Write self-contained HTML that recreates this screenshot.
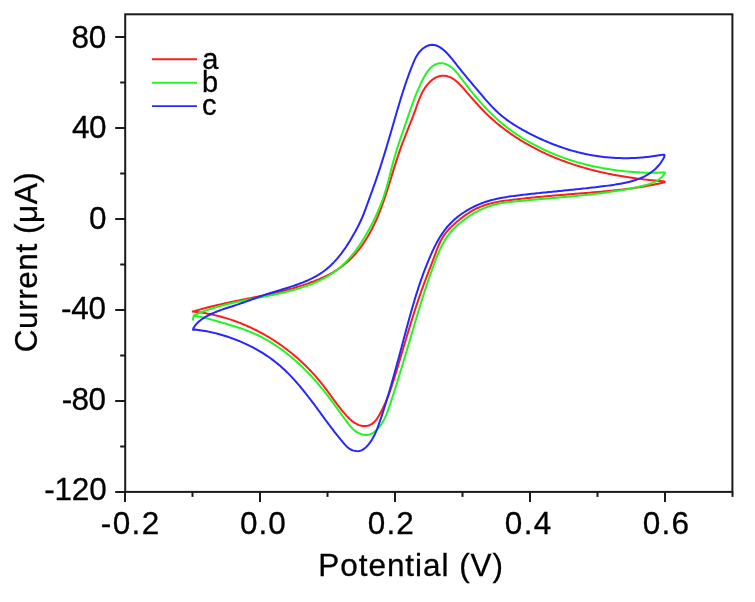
<!DOCTYPE html>
<html><head><meta charset="utf-8"><style>
html,body{margin:0;padding:0;background:#fff;width:755px;height:602px;overflow:hidden}
svg{display:block;will-change:transform}
text{font-family:"Liberation Sans",sans-serif;font-size:31.5px;fill:#000;stroke:#000;stroke-width:0.3px}
.lg text{font-size:29px}
</style></head><body>
<svg width="755" height="602" viewBox="0 0 755 602">
<g fill="none" stroke-width="2.0" stroke-linejoin="round" stroke-linecap="round">
<path d="M192.80,311.60 L194.32,311.21 L195.84,310.75 L197.37,310.29 L198.90,309.85 L200.44,309.41 L201.97,308.98 L203.51,308.56 L205.04,308.14 L206.58,307.74 L208.12,307.34 L209.66,306.95 L211.20,306.56 L212.74,306.18 L214.29,305.80 L215.83,305.44 L217.38,305.07 L218.92,304.71 L220.47,304.36 L222.02,304.01 L223.56,303.67 L225.11,303.32 L226.66,302.99 L228.21,302.65 L229.76,302.32 L231.31,301.99 L232.87,301.67 L234.42,301.35 L235.97,301.03 L237.52,300.71 L239.08,300.39 L240.63,300.07 L242.18,299.76 L243.73,299.45 L245.29,299.13 L246.84,298.82 L248.39,298.50 L249.95,298.19 L251.50,297.88 L253.05,297.56 L254.61,297.24 L256.16,296.93 L257.71,296.61 L259.26,296.29 L260.81,295.96 L262.36,295.64 L263.91,295.31 L265.46,294.97 L267.01,294.64 L268.56,294.30 L270.10,293.96 L271.65,293.61 L273.20,293.26 L274.74,292.90 L276.29,292.54 L277.83,292.18 L279.37,291.81 L280.91,291.43 L282.45,291.05 L283.99,290.66 L285.53,290.26 L287.06,289.86 L288.60,289.45 L290.13,289.03 L291.66,288.61 L293.19,288.17 L294.72,287.73 L296.25,287.28 L297.78,286.83 L299.30,286.36 L300.82,285.88 L302.35,285.40 L303.86,284.90 L305.38,284.40 L306.90,283.88 L308.41,283.35 L309.91,282.81 L311.41,282.26 L312.91,281.70 L314.40,281.12 L315.89,280.53 L317.37,279.93 L318.84,279.31 L320.30,278.68 L321.75,278.03 L323.20,277.37 L324.63,276.69 L326.06,276.00 L327.48,275.28 L328.88,274.56 L330.27,273.81 L331.65,273.04 L333.02,272.26 L334.37,271.45 L335.71,270.63 L337.03,269.79 L338.34,268.92 L339.63,268.04 L340.91,267.13 L342.17,266.20 L343.41,265.25 L344.63,264.28 L345.84,263.29 L347.02,262.27 L348.19,261.22 L349.34,260.16 L350.47,259.07 L351.58,257.96 L352.67,256.83 L353.74,255.69 L354.80,254.52 L355.84,253.33 L356.86,252.13 L357.86,250.90 L358.85,249.66 L359.82,248.41 L360.77,247.14 L361.71,245.85 L362.63,244.55 L363.53,243.23 L364.42,241.90 L365.29,240.56 L366.15,239.21 L366.99,237.84 L367.81,236.46 L368.62,235.08 L369.41,233.68 L370.19,232.27 L370.96,230.86 L371.71,229.44 L372.44,228.00 L373.16,226.57 L373.87,225.12 L374.56,223.68 L375.24,222.22 L375.91,220.76 L376.56,219.30 L377.20,217.83 L377.83,216.36 L378.45,214.89 L379.05,213.42 L379.64,211.94 L380.23,210.46 L380.80,208.97 L381.36,207.49 L381.91,206.00 L382.46,204.51 L382.99,203.01 L383.52,201.52 L384.04,200.02 L384.55,198.52 L385.05,197.02 L385.55,195.52 L386.05,194.02 L386.54,192.51 L387.02,191.00 L387.50,189.50 L387.97,187.99 L388.44,186.48 L388.91,184.97 L389.38,183.46 L389.84,181.95 L390.30,180.44 L390.76,178.93 L391.22,177.42 L391.68,175.91 L392.14,174.40 L392.60,172.89 L393.06,171.38 L393.52,169.87 L393.99,168.36 L394.45,166.85 L394.92,165.34 L395.40,163.84 L395.87,162.33 L396.35,160.83 L396.84,159.33 L397.33,157.83 L397.82,156.33 L398.32,154.84 L398.83,153.34 L399.34,151.85 L399.87,150.36 L400.40,148.88 L400.93,147.39 L401.48,145.91 L402.03,144.43 L402.58,142.95 L403.14,141.47 L403.71,139.99 L404.28,138.52 L404.85,137.04 L405.43,135.56 L406.01,134.09 L406.59,132.61 L407.17,131.14 L407.76,129.66 L408.34,128.18 L408.92,126.71 L409.51,125.23 L410.09,123.74 L410.67,122.26 L411.25,120.78 L411.83,119.29 L412.40,117.80 L412.97,116.31 L413.53,114.81 L414.09,113.31 L414.65,111.81 L415.20,110.31 L415.74,108.80 L416.27,107.28 L416.81,105.77 L417.35,104.26 L417.90,102.75 L418.46,101.25 L419.03,99.76 L419.63,98.28 L420.24,96.81 L420.88,95.36 L421.55,93.93 L422.26,92.51 L423.00,91.12 L423.79,89.75 L424.62,88.41 L425.50,87.10 L426.44,85.82 L427.43,84.57 L428.49,83.36 L429.60,82.19 L430.78,81.07 L432.02,80.02 L433.30,79.06 L434.64,78.20 L436.02,77.44 L437.45,76.82 L438.91,76.33 L440.40,75.99 L441.91,75.80 L443.41,75.74 L444.91,75.82 L446.38,76.04 L447.82,76.38 L449.21,76.85 L450.58,77.44 L451.91,78.12 L453.21,78.91 L454.47,79.78 L455.72,80.74 L456.93,81.76 L458.13,82.84 L459.30,83.98 L460.45,85.16 L461.59,86.37 L462.71,87.61 L463.82,88.86 L464.92,90.13 L466.01,91.39 L467.09,92.64 L468.17,93.89 L469.24,95.12 L470.30,96.35 L471.37,97.57 L472.43,98.78 L473.49,99.98 L474.55,101.17 L475.60,102.36 L476.66,103.53 L477.72,104.70 L478.79,105.86 L479.86,107.00 L480.93,108.14 L482.01,109.27 L483.09,110.40 L484.18,111.51 L485.28,112.61 L486.39,113.71 L487.51,114.79 L488.64,115.87 L489.78,116.94 L490.93,117.99 L492.09,119.04 L493.26,120.09 L494.44,121.12 L495.64,122.14 L496.84,123.15 L498.05,124.16 L499.27,125.15 L500.50,126.14 L501.74,127.11 L502.99,128.08 L504.25,129.04 L505.51,129.99 L506.79,130.93 L508.07,131.86 L509.36,132.78 L510.66,133.69 L511.96,134.59 L513.28,135.49 L514.60,136.37 L515.93,137.24 L517.26,138.11 L518.60,138.96 L519.95,139.81 L521.31,140.64 L522.67,141.47 L524.04,142.29 L525.41,143.09 L526.79,143.89 L528.18,144.68 L529.57,145.46 L530.96,146.23 L532.36,146.99 L533.77,147.74 L535.18,148.48 L536.59,149.20 L538.01,149.92 L539.43,150.64 L540.86,151.34 L542.29,152.03 L543.73,152.71 L545.17,153.38 L546.61,154.04 L548.05,154.69 L549.50,155.33 L550.96,155.97 L552.41,156.59 L553.87,157.21 L555.34,157.81 L556.80,158.41 L558.27,158.99 L559.75,159.57 L561.22,160.14 L562.70,160.70 L564.19,161.25 L565.67,161.80 L567.16,162.33 L568.65,162.86 L570.15,163.37 L571.65,163.88 L573.15,164.38 L574.65,164.87 L576.16,165.36 L577.67,165.83 L579.18,166.30 L580.69,166.76 L582.21,167.21 L583.73,167.65 L585.25,168.09 L586.77,168.52 L588.30,168.94 L589.83,169.35 L591.36,169.75 L592.89,170.15 L594.43,170.54 L595.97,170.92 L597.51,171.29 L599.05,171.66 L600.59,172.02 L602.13,172.38 L603.68,172.72 L605.23,173.06 L606.78,173.39 L608.33,173.72 L609.89,174.04 L611.44,174.35 L613.00,174.65 L614.56,174.95 L616.12,175.24 L617.68,175.53 L619.24,175.81 L620.81,176.08 L622.37,176.35 L623.94,176.61 L625.51,176.86 L627.08,177.11 L628.65,177.35 L630.22,177.59 L631.79,177.82 L633.36,178.04 L634.94,178.26 L636.51,178.47 L638.09,178.68 L639.66,178.88 L641.24,179.08 L642.82,179.27 L644.40,179.45 L645.97,179.63 L647.55,179.81 L649.13,179.98 L650.71,180.14 L652.29,180.30 L653.87,180.46 L655.45,180.61 L657.04,180.75 L658.62,180.89 L660.20,181.03 L661.78,181.16 L663.36,181.29 L664.90,181.70 L664.90,181.90 L663.39,182.60 L661.78,182.97 L660.17,183.33 L658.55,183.67 L656.94,184.01 L655.32,184.34 L653.71,184.67 L652.09,184.98 L650.47,185.29 L648.85,185.58 L647.23,185.88 L645.61,186.16 L643.98,186.43 L642.36,186.70 L640.73,186.96 L639.10,187.22 L637.47,187.47 L635.84,187.71 L634.21,187.94 L632.58,188.17 L630.95,188.40 L629.32,188.62 L627.68,188.83 L626.05,189.04 L624.41,189.24 L622.78,189.44 L621.14,189.63 L619.50,189.82 L617.86,190.00 L616.22,190.18 L614.58,190.35 L612.94,190.53 L611.30,190.69 L609.66,190.86 L608.02,191.02 L606.38,191.18 L604.73,191.33 L603.09,191.49 L601.44,191.64 L599.80,191.78 L598.16,191.93 L596.51,192.07 L594.86,192.21 L593.22,192.35 L591.57,192.49 L589.93,192.63 L588.28,192.77 L586.63,192.90 L584.99,193.04 L583.34,193.17 L581.69,193.30 L580.05,193.44 L578.40,193.57 L576.75,193.70 L575.10,193.84 L573.46,193.97 L571.81,194.11 L570.16,194.24 L568.51,194.37 L566.87,194.51 L565.22,194.64 L563.57,194.78 L561.93,194.92 L560.28,195.06 L558.63,195.19 L556.99,195.33 L555.34,195.47 L553.70,195.62 L552.05,195.76 L550.40,195.90 L548.76,196.05 L547.11,196.20 L545.47,196.34 L543.83,196.49 L542.18,196.65 L540.54,196.80 L538.89,196.96 L537.25,197.11 L535.61,197.27 L533.97,197.43 L532.33,197.60 L530.68,197.76 L529.04,197.93 L527.40,198.10 L525.76,198.28 L524.13,198.45 L522.49,198.63 L520.85,198.82 L519.21,199.00 L517.57,199.19 L515.94,199.38 L514.30,199.57 L512.67,199.77 L511.03,199.97 L509.40,200.18 L507.77,200.39 L506.14,200.60 L504.51,200.83 L502.89,201.07 L501.26,201.32 L499.65,201.59 L498.03,201.87 L496.43,202.18 L494.82,202.50 L493.23,202.85 L491.64,203.22 L490.05,203.62 L488.48,204.04 L486.91,204.50 L485.35,204.99 L483.80,205.51 L482.26,206.07 L480.73,206.67 L479.21,207.30 L477.70,207.98 L476.20,208.70 L474.72,209.45 L473.25,210.24 L471.79,211.07 L470.35,211.92 L468.92,212.81 L467.50,213.72 L466.10,214.67 L464.72,215.63 L463.36,216.62 L462.01,217.63 L460.68,218.66 L459.37,219.70 L458.07,220.76 L456.80,221.84 L455.55,222.92 L454.32,224.02 L453.11,225.12 L451.93,226.24 L450.77,227.37 L449.64,228.51 L448.54,229.68 L447.48,230.88 L446.45,232.09 L445.46,233.34 L444.50,234.62 L443.59,235.93 L442.73,237.28 L441.91,238.67 L441.13,240.09 L440.38,241.54 L439.67,243.02 L438.99,244.52 L438.33,246.04 L437.70,247.58 L437.08,249.14 L436.48,250.70 L435.89,252.28 L435.31,253.85 L434.74,255.43 L434.16,257.01 L433.58,258.58 L433.00,260.14 L432.41,261.70 L431.83,263.25 L431.24,264.80 L430.65,266.34 L430.06,267.88 L429.46,269.42 L428.87,270.95 L428.28,272.49 L427.69,274.02 L427.10,275.55 L426.52,277.08 L425.94,278.61 L425.36,280.15 L424.78,281.68 L424.21,283.22 L423.64,284.75 L423.08,286.29 L422.52,287.84 L421.96,289.38 L421.41,290.93 L420.87,292.48 L420.33,294.03 L419.79,295.58 L419.25,297.13 L418.72,298.69 L418.19,300.25 L417.67,301.81 L417.15,303.37 L416.63,304.93 L416.11,306.49 L415.60,308.06 L415.09,309.62 L414.58,311.19 L414.08,312.76 L413.58,314.33 L413.08,315.90 L412.58,317.48 L412.09,319.05 L411.60,320.62 L411.11,322.20 L410.62,323.78 L410.14,325.35 L409.65,326.93 L409.17,328.51 L408.69,330.09 L408.21,331.67 L407.73,333.25 L407.25,334.83 L406.78,336.41 L406.30,337.99 L405.83,339.57 L405.36,341.16 L404.89,342.74 L404.41,344.32 L403.94,345.90 L403.47,347.48 L403.01,349.07 L402.54,350.65 L402.07,352.23 L401.60,353.81 L401.13,355.39 L400.66,356.98 L400.19,358.56 L399.72,360.14 L399.25,361.72 L398.78,363.30 L398.31,364.88 L397.84,366.45 L397.36,368.03 L396.89,369.61 L396.42,371.18 L395.94,372.76 L395.46,374.33 L394.99,375.91 L394.50,377.48 L394.02,379.05 L393.52,380.62 L393.03,382.18 L392.52,383.75 L392.01,385.31 L391.49,386.87 L390.96,388.42 L390.42,389.97 L389.87,391.52 L389.31,393.07 L388.74,394.61 L388.15,396.15 L387.55,397.68 L386.93,399.21 L386.29,400.74 L385.64,402.26 L384.97,403.78 L384.28,405.29 L383.57,406.79 L382.85,408.29 L382.09,409.78 L381.32,411.27 L380.53,412.75 L379.70,414.23 L378.86,415.70 L377.98,417.14 L377.06,418.55 L376.09,419.89 L375.05,421.15 L373.94,422.31 L372.75,423.34 L371.46,424.23 L370.07,424.95 L368.60,425.50 L367.07,425.88 L365.49,426.08 L363.89,426.09 L362.28,425.93 L360.68,425.59 L359.11,425.11 L357.56,424.48 L356.07,423.73 L354.63,422.89 L353.25,421.95 L351.93,420.94 L350.67,419.86 L349.44,418.72 L348.26,417.54 L347.10,416.33 L345.97,415.09 L344.86,413.84 L343.77,412.58 L342.70,411.31 L341.64,410.03 L340.60,408.74 L339.57,407.44 L338.56,406.13 L337.55,404.81 L336.55,403.49 L335.56,402.17 L334.58,400.84 L333.60,399.51 L332.62,398.17 L331.65,396.84 L330.68,395.51 L329.71,394.17 L328.74,392.84 L327.76,391.51 L326.78,390.19 L325.79,388.87 L324.80,387.55 L323.80,386.24 L322.79,384.94 L321.77,383.65 L320.73,382.37 L319.69,381.09 L318.64,379.82 L317.57,378.57 L316.50,377.32 L315.41,376.08 L314.32,374.84 L313.21,373.62 L312.09,372.41 L310.97,371.20 L309.83,370.01 L308.69,368.82 L307.53,367.65 L306.37,366.48 L305.19,365.32 L304.01,364.18 L302.81,363.04 L301.61,361.91 L300.40,360.79 L299.18,359.69 L297.95,358.59 L296.71,357.50 L295.46,356.42 L294.20,355.36 L292.94,354.30 L291.66,353.26 L290.38,352.22 L289.09,351.20 L287.79,350.18 L286.48,349.18 L285.16,348.19 L283.84,347.20 L282.51,346.23 L281.17,345.28 L279.82,344.33 L278.46,343.39 L277.10,342.47 L275.73,341.55 L274.35,340.65 L272.96,339.76 L271.57,338.88 L270.17,338.02 L268.76,337.16 L267.34,336.32 L265.92,335.49 L264.49,334.67 L263.05,333.86 L261.61,333.07 L260.16,332.28 L258.70,331.52 L257.24,330.76 L255.77,330.01 L254.30,329.28 L252.81,328.56 L251.33,327.86 L249.83,327.17 L248.33,326.49 L246.83,325.82 L245.31,325.16 L243.80,324.52 L242.27,323.90 L240.74,323.28 L239.21,322.68 L237.67,322.10 L236.13,321.52 L234.58,320.97 L233.02,320.42 L231.46,319.89 L229.89,319.37 L228.32,318.87 L226.75,318.38 L225.17,317.91 L223.58,317.45 L222.00,317.00 L220.40,316.57 L218.80,316.15 L217.20,315.75 L215.60,315.36 L213.99,314.99 L212.37,314.63 L210.75,314.29 L209.13,313.96 L207.51,313.65 L205.88,313.35 L204.24,313.07 L202.61,312.80 L200.97,312.55 L199.32,312.32 L197.68,312.10 L196.03,311.89 L194.37,311.70 L192.80,311.60" stroke="#ff1c1c"/>
<path d="M193.00,319.70 L193.60,316.00 L194.85,314.97 L196.36,314.30 L197.88,313.65 L199.40,313.02 L200.93,312.41 L202.46,311.81 L203.99,311.23 L205.53,310.67 L207.07,310.12 L208.61,309.58 L210.16,309.07 L211.70,308.56 L213.25,308.07 L214.81,307.59 L216.36,307.13 L217.92,306.67 L219.49,306.23 L221.05,305.80 L222.62,305.38 L224.19,304.97 L225.76,304.57 L227.33,304.18 L228.91,303.80 L230.48,303.42 L232.06,303.06 L233.65,302.70 L235.23,302.35 L236.82,302.00 L238.40,301.66 L239.99,301.33 L241.58,301.00 L243.17,300.68 L244.77,300.36 L246.36,300.04 L247.96,299.72 L249.56,299.41 L251.16,299.10 L252.76,298.80 L254.36,298.49 L255.96,298.18 L257.56,297.88 L259.17,297.57 L260.77,297.26 L262.38,296.95 L263.98,296.64 L265.59,296.33 L267.20,296.01 L268.80,295.69 L270.41,295.37 L272.02,295.04 L273.63,294.71 L275.24,294.38 L276.85,294.03 L278.45,293.68 L280.06,293.33 L281.67,292.97 L283.28,292.60 L284.88,292.22 L286.49,291.83 L288.09,291.44 L289.68,291.03 L291.28,290.62 L292.87,290.19 L294.46,289.75 L296.04,289.30 L297.62,288.84 L299.19,288.37 L300.76,287.88 L302.32,287.38 L303.87,286.87 L305.42,286.34 L306.96,285.79 L308.49,285.23 L310.02,284.66 L311.53,284.07 L313.04,283.46 L314.53,282.83 L316.02,282.19 L317.50,281.52 L318.96,280.84 L320.42,280.14 L321.86,279.42 L323.29,278.67 L324.71,277.91 L326.12,277.13 L327.51,276.32 L328.89,275.49 L330.25,274.64 L331.60,273.76 L332.94,272.86 L334.26,271.94 L335.56,270.99 L336.85,270.01 L338.12,269.01 L339.38,267.98 L340.61,266.93 L341.83,265.85 L343.03,264.75 L344.22,263.62 L345.39,262.47 L346.54,261.30 L347.67,260.11 L348.78,258.90 L349.88,257.67 L350.96,256.43 L352.02,255.17 L353.06,253.90 L354.08,252.61 L355.09,251.31 L356.08,250.00 L357.05,248.68 L358.00,247.35 L358.93,246.02 L359.85,244.67 L360.74,243.32 L361.63,241.97 L362.50,240.60 L363.35,239.23 L364.20,237.85 L365.03,236.46 L365.85,235.07 L366.66,233.67 L367.47,232.27 L368.26,230.85 L369.05,229.43 L369.83,228.01 L370.59,226.57 L371.35,225.13 L372.10,223.69 L372.84,222.24 L373.57,220.78 L374.29,219.32 L374.99,217.85 L375.69,216.37 L376.38,214.89 L377.05,213.40 L377.71,211.91 L378.36,210.42 L379.00,208.91 L379.63,207.41 L380.25,205.89 L380.85,204.38 L381.44,202.86 L382.02,201.33 L382.58,199.80 L383.13,198.27 L383.67,196.73 L384.19,195.18 L384.70,193.64 L385.20,192.09 L385.68,190.53 L386.15,188.97 L386.60,187.41 L387.04,185.85 L387.47,184.28 L387.89,182.71 L388.30,181.13 L388.71,179.56 L389.11,177.98 L389.51,176.40 L389.90,174.82 L390.29,173.24 L390.69,171.66 L391.08,170.08 L391.48,168.50 L391.88,166.92 L392.29,165.34 L392.71,163.76 L393.13,162.18 L393.56,160.61 L394.01,159.03 L394.46,157.46 L394.92,155.88 L395.39,154.31 L395.86,152.74 L396.35,151.18 L396.84,149.61 L397.33,148.05 L397.83,146.48 L398.34,144.92 L398.85,143.36 L399.37,141.80 L399.89,140.25 L400.41,138.69 L400.94,137.14 L401.47,135.59 L402.00,134.04 L402.53,132.50 L403.06,130.95 L403.60,129.41 L404.13,127.87 L404.66,126.33 L405.20,124.79 L405.73,123.26 L406.26,121.73 L406.79,120.20 L407.31,118.67 L407.84,117.14 L408.36,115.62 L408.88,114.10 L409.41,112.58 L409.93,111.06 L410.46,109.54 L410.99,108.02 L411.53,106.51 L412.07,104.99 L412.61,103.48 L413.17,101.97 L413.73,100.46 L414.30,98.94 L414.88,97.43 L415.47,95.92 L416.07,94.41 L416.69,92.90 L417.31,91.38 L417.96,89.87 L418.61,88.36 L419.29,86.84 L419.98,85.33 L420.69,83.81 L421.42,82.29 L422.16,80.77 L422.93,79.25 L423.72,77.73 L424.54,76.22 L425.40,74.74 L426.29,73.29 L427.23,71.89 L428.21,70.55 L429.26,69.28 L430.36,68.10 L431.53,67.02 L432.78,66.04 L434.09,65.18 L435.46,64.46 L436.87,63.89 L438.31,63.47 L439.78,63.23 L441.26,63.17 L442.75,63.31 L444.23,63.61 L445.69,64.07 L447.14,64.68 L448.56,65.42 L449.95,66.28 L451.30,67.23 L452.59,68.28 L453.83,69.39 L455.01,70.57 L456.15,71.80 L457.24,73.07 L458.30,74.37 L459.33,75.70 L460.35,77.04 L461.35,78.38 L462.34,79.72 L463.33,81.05 L464.33,82.37 L465.32,83.68 L466.32,84.98 L467.32,86.27 L468.32,87.56 L469.32,88.83 L470.32,90.10 L471.33,91.36 L472.35,92.61 L473.37,93.86 L474.39,95.11 L475.42,96.34 L476.46,97.57 L477.51,98.80 L478.56,100.02 L479.62,101.24 L480.70,102.45 L481.78,103.66 L482.87,104.87 L483.96,106.06 L485.07,107.25 L486.19,108.44 L487.31,109.62 L488.44,110.79 L489.59,111.95 L490.74,113.10 L491.90,114.25 L493.08,115.39 L494.26,116.51 L495.45,117.63 L496.65,118.74 L497.86,119.83 L499.08,120.92 L500.31,121.99 L501.55,123.05 L502.80,124.10 L504.06,125.13 L505.33,126.16 L506.61,127.17 L507.91,128.16 L509.21,129.14 L510.52,130.11 L511.84,131.06 L513.17,132.00 L514.51,132.93 L515.86,133.85 L517.21,134.75 L518.58,135.64 L519.95,136.52 L521.33,137.39 L522.72,138.24 L524.12,139.09 L525.52,139.92 L526.93,140.74 L528.34,141.55 L529.76,142.35 L531.19,143.14 L532.62,143.92 L534.05,144.69 L535.50,145.45 L536.94,146.20 L538.39,146.94 L539.85,147.67 L541.31,148.39 L542.78,149.10 L544.25,149.80 L545.73,150.49 L547.21,151.16 L548.69,151.83 L550.18,152.49 L551.68,153.13 L553.18,153.77 L554.68,154.39 L556.19,155.00 L557.70,155.60 L559.22,156.19 L560.74,156.77 L562.27,157.33 L563.80,157.89 L565.33,158.43 L566.87,158.96 L568.41,159.48 L569.96,159.99 L571.51,160.48 L573.07,160.97 L574.63,161.44 L576.19,161.90 L577.76,162.35 L579.32,162.79 L580.90,163.22 L582.47,163.63 L584.05,164.04 L585.63,164.44 L587.22,164.83 L588.81,165.20 L590.40,165.57 L591.99,165.93 L593.58,166.28 L595.18,166.62 L596.78,166.95 L598.38,167.27 L599.98,167.59 L601.58,167.89 L603.19,168.19 L604.79,168.47 L606.40,168.75 L608.01,169.02 L609.62,169.28 L611.24,169.53 L612.85,169.78 L614.47,170.01 L616.08,170.23 L617.70,170.45 L619.32,170.65 L620.94,170.85 L622.56,171.04 L624.18,171.21 L625.81,171.38 L627.43,171.54 L629.05,171.69 L630.68,171.83 L632.31,171.95 L633.93,172.07 L635.56,172.18 L637.19,172.28 L638.82,172.37 L640.44,172.45 L642.07,172.52 L643.70,172.58 L645.33,172.63 L646.96,172.67 L648.59,172.70 L650.22,172.71 L651.85,172.72 L653.48,172.72 L655.11,172.70 L656.74,172.68 L658.37,172.65 L660.00,172.60 L661.63,172.54 L663.26,172.48 L664.90,172.40 L664.90,173.00 L663.96,174.42 L662.88,175.83 L661.72,177.11 L660.48,178.26 L659.19,179.30 L657.83,180.23 L656.41,181.07 L654.95,181.82 L653.44,182.50 L651.90,183.11 L650.33,183.66 L648.74,184.17 L647.13,184.64 L645.50,185.09 L643.88,185.52 L642.24,185.93 L640.61,186.33 L638.97,186.72 L637.33,187.10 L635.69,187.46 L634.05,187.82 L632.40,188.16 L630.75,188.50 L629.11,188.82 L627.45,189.14 L625.80,189.44 L624.15,189.74 L622.49,190.03 L620.83,190.31 L619.17,190.58 L617.51,190.85 L615.85,191.11 L614.19,191.36 L612.53,191.61 L610.86,191.85 L609.20,192.08 L607.53,192.31 L605.87,192.54 L604.20,192.76 L602.53,192.98 L600.87,193.19 L599.20,193.40 L597.53,193.60 L595.86,193.80 L594.20,194.00 L592.53,194.20 L590.86,194.39 L589.19,194.57 L587.52,194.76 L585.85,194.94 L584.18,195.12 L582.51,195.29 L580.83,195.46 L579.16,195.63 L577.49,195.80 L575.82,195.97 L574.15,196.13 L572.47,196.29 L570.80,196.45 L569.13,196.60 L567.45,196.76 L565.78,196.91 L564.11,197.06 L562.43,197.21 L560.76,197.36 L559.09,197.51 L557.41,197.66 L555.74,197.81 L554.06,197.95 L552.39,198.10 L550.71,198.24 L549.04,198.38 L547.36,198.53 L545.69,198.67 L544.01,198.81 L542.34,198.96 L540.66,199.10 L538.99,199.24 L537.31,199.39 L535.64,199.53 L533.96,199.68 L532.29,199.83 L530.61,199.97 L528.94,200.12 L527.26,200.27 L525.59,200.42 L523.91,200.57 L522.24,200.73 L520.56,200.88 L518.89,201.04 L517.21,201.20 L515.54,201.36 L513.87,201.54 L512.20,201.72 L510.53,201.91 L508.86,202.11 L507.20,202.33 L505.54,202.56 L503.89,202.82 L502.24,203.09 L500.60,203.38 L498.96,203.70 L497.33,204.05 L495.71,204.42 L494.09,204.82 L492.49,205.25 L490.89,205.72 L489.29,206.22 L487.71,206.76 L486.14,207.33 L484.58,207.95 L483.03,208.60 L481.49,209.29 L479.96,210.02 L478.45,210.78 L476.95,211.57 L475.46,212.39 L473.98,213.24 L472.53,214.12 L471.08,215.02 L469.65,215.95 L468.24,216.90 L466.85,217.87 L465.47,218.86 L464.11,219.87 L462.77,220.90 L461.44,221.94 L460.14,223.00 L458.86,224.08 L457.61,225.18 L456.38,226.30 L455.17,227.44 L454.00,228.61 L452.85,229.80 L451.74,231.01 L450.66,232.25 L449.62,233.52 L448.61,234.82 L447.63,236.14 L446.69,237.49 L445.79,238.87 L444.91,240.27 L444.06,241.69 L443.24,243.13 L442.45,244.59 L441.68,246.07 L440.93,247.57 L440.20,249.08 L439.50,250.60 L438.81,252.14 L438.14,253.69 L437.49,255.25 L436.85,256.82 L436.23,258.39 L435.61,259.97 L435.00,261.56 L434.41,263.15 L433.82,264.74 L433.23,266.33 L432.65,267.92 L432.08,269.52 L431.51,271.11 L430.94,272.70 L430.38,274.30 L429.82,275.89 L429.27,277.49 L428.72,279.09 L428.18,280.68 L427.64,282.28 L427.10,283.88 L426.57,285.47 L426.04,287.07 L425.52,288.67 L425.00,290.27 L424.48,291.87 L423.96,293.47 L423.45,295.07 L422.94,296.67 L422.44,298.27 L421.93,299.87 L421.43,301.47 L420.93,303.07 L420.44,304.67 L419.94,306.28 L419.45,307.88 L418.96,309.48 L418.48,311.09 L417.99,312.69 L417.51,314.29 L417.03,315.90 L416.54,317.50 L416.07,319.11 L415.59,320.71 L415.11,322.32 L414.63,323.92 L414.16,325.53 L413.69,327.13 L413.21,328.74 L412.74,330.35 L412.27,331.95 L411.79,333.56 L411.32,335.16 L410.85,336.77 L410.38,338.38 L409.91,339.98 L409.43,341.59 L408.96,343.20 L408.49,344.81 L408.01,346.41 L407.54,348.02 L407.06,349.63 L406.59,351.24 L406.11,352.84 L405.63,354.45 L405.15,356.06 L404.67,357.67 L404.19,359.27 L403.71,360.88 L403.23,362.49 L402.74,364.09 L402.26,365.70 L401.77,367.31 L401.28,368.92 L400.79,370.52 L400.30,372.13 L399.80,373.74 L399.31,375.34 L398.81,376.95 L398.32,378.56 L397.82,380.16 L397.31,381.77 L396.81,383.37 L396.30,384.98 L395.80,386.59 L395.29,388.19 L394.78,389.79 L394.26,391.40 L393.75,393.00 L393.23,394.61 L392.71,396.21 L392.19,397.81 L391.66,399.42 L391.14,401.02 L390.61,402.62 L390.08,404.22 L389.54,405.82 L389.00,407.42 L388.45,409.02 L387.89,410.61 L387.30,412.19 L386.69,413.76 L386.05,415.32 L385.38,416.86 L384.67,418.39 L383.91,419.89 L383.10,421.38 L382.24,422.84 L381.33,424.28 L380.34,425.68 L379.29,427.06 L378.17,428.40 L376.98,429.67 L375.73,430.86 L374.42,431.94 L373.06,432.88 L371.64,433.66 L370.18,434.26 L368.67,434.67 L367.14,434.88 L365.59,434.90 L364.02,434.76 L362.47,434.45 L360.92,434.00 L359.41,433.40 L357.93,432.67 L356.50,431.82 L355.13,430.85 L353.82,429.79 L352.59,428.64 L351.40,427.42 L350.27,426.13 L349.17,424.80 L348.10,423.43 L347.06,422.05 L346.03,420.66 L345.00,419.27 L343.99,417.89 L342.98,416.51 L341.98,415.13 L340.99,413.75 L340.00,412.38 L339.01,411.02 L338.02,409.65 L337.04,408.29 L336.06,406.94 L335.07,405.58 L334.09,404.24 L333.10,402.89 L332.11,401.55 L331.12,400.21 L330.12,398.88 L329.12,397.55 L328.11,396.22 L327.09,394.90 L326.06,393.58 L325.03,392.27 L323.99,390.96 L322.94,389.65 L321.88,388.35 L320.81,387.06 L319.74,385.77 L318.65,384.49 L317.56,383.21 L316.46,381.94 L315.35,380.68 L314.23,379.42 L313.11,378.17 L311.97,376.93 L310.83,375.69 L309.68,374.46 L308.52,373.24 L307.35,372.03 L306.17,370.83 L304.99,369.63 L303.79,368.45 L302.59,367.27 L301.38,366.10 L300.16,364.95 L298.93,363.80 L297.69,362.66 L296.44,361.53 L295.19,360.42 L293.92,359.31 L292.65,358.22 L291.36,357.14 L290.07,356.07 L288.77,355.01 L287.46,353.96 L286.14,352.93 L284.81,351.91 L283.47,350.90 L282.13,349.90 L280.77,348.92 L279.41,347.95 L278.03,347.00 L276.65,346.06 L275.25,345.13 L273.85,344.22 L272.44,343.32 L271.02,342.44 L269.59,341.58 L268.15,340.73 L266.70,339.89 L265.24,339.07 L263.77,338.27 L262.29,337.49 L260.80,336.72 L259.30,335.97 L257.80,335.23 L256.28,334.52 L254.75,333.82 L253.22,333.14 L251.67,332.48 L250.11,331.83 L248.55,331.21 L246.97,330.60 L245.39,330.00 L243.80,329.43 L242.21,328.86 L240.61,328.31 L239.00,327.77 L237.40,327.25 L235.78,326.73 L234.17,326.22 L232.55,325.72 L230.93,325.23 L229.31,324.75 L227.69,324.27 L226.08,323.80 L224.46,323.33 L222.84,322.86 L221.23,322.40 L219.63,321.93 L218.02,321.47 L216.42,321.01 L214.83,320.55 L213.24,320.10 L211.64,319.65 L210.05,319.21 L208.45,318.78 L206.84,318.37 L205.23,317.97 L203.60,317.60 L201.97,317.25 L200.32,316.92 L198.66,316.62 L196.98,316.35 L195.28,316.11 L193.60,315.90 L193.00,319.70" stroke="#22f522"/>
<path d="M193.00,329.80 L193.42,328.13 L194.28,326.74 L195.23,325.42 L196.28,324.17 L197.40,322.97 L198.60,321.84 L199.87,320.75 L201.20,319.72 L202.58,318.74 L204.01,317.81 L205.48,316.92 L206.98,316.08 L208.52,315.27 L210.07,314.50 L211.63,313.77 L213.21,313.06 L214.79,312.39 L216.38,311.74 L217.97,311.11 L219.57,310.51 L221.18,309.93 L222.79,309.36 L224.40,308.81 L226.01,308.27 L227.62,307.74 L229.23,307.22 L230.85,306.71 L232.46,306.19 L234.06,305.68 L235.66,305.16 L237.26,304.64 L238.86,304.11 L240.44,303.57 L242.03,303.02 L243.60,302.47 L245.18,301.91 L246.75,301.34 L248.32,300.77 L249.89,300.20 L251.45,299.62 L253.02,299.05 L254.59,298.47 L256.17,297.90 L257.74,297.33 L259.33,296.77 L260.91,296.21 L262.50,295.66 L264.10,295.11 L265.71,294.57 L267.33,294.05 L268.95,293.52 L270.58,293.01 L272.21,292.50 L273.85,291.99 L275.49,291.49 L277.13,290.99 L278.78,290.49 L280.42,289.99 L282.07,289.49 L283.72,288.98 L285.37,288.47 L287.01,287.96 L288.65,287.44 L290.29,286.91 L291.92,286.38 L293.55,285.83 L295.17,285.28 L296.78,284.71 L298.39,284.13 L299.99,283.54 L301.58,282.93 L303.16,282.31 L304.73,281.66 L306.28,281.00 L307.83,280.32 L309.36,279.62 L310.87,278.90 L312.38,278.16 L313.86,277.39 L315.33,276.60 L316.78,275.78 L318.22,274.93 L319.63,274.05 L321.02,273.15 L322.40,272.21 L323.75,271.24 L325.08,270.24 L326.39,269.21 L327.67,268.14 L328.94,267.05 L330.18,265.92 L331.40,264.77 L332.60,263.58 L333.78,262.38 L334.93,261.14 L336.07,259.88 L337.19,258.61 L338.29,257.30 L339.37,255.98 L340.43,254.64 L341.48,253.29 L342.50,251.91 L343.51,250.52 L344.50,249.12 L345.48,247.71 L346.44,246.28 L347.38,244.84 L348.31,243.39 L349.22,241.94 L350.11,240.48 L351.00,239.01 L351.86,237.54 L352.72,236.07 L353.56,234.59 L354.38,233.11 L355.20,231.64 L356.00,230.16 L356.79,228.69 L357.56,227.22 L358.33,225.75 L359.07,224.27 L359.80,222.78 L360.52,221.28 L361.21,219.77 L361.88,218.24 L362.54,216.69 L363.18,215.13 L363.80,213.56 L364.41,211.98 L365.02,210.39 L365.61,208.79 L366.20,207.19 L366.79,205.59 L367.37,203.99 L367.96,202.39 L368.54,200.80 L369.12,199.20 L369.70,197.61 L370.28,196.01 L370.86,194.42 L371.44,192.82 L372.01,191.23 L372.59,189.64 L373.16,188.04 L373.72,186.45 L374.29,184.86 L374.85,183.26 L375.41,181.66 L375.96,180.06 L376.52,178.46 L377.06,176.86 L377.61,175.26 L378.15,173.65 L378.69,172.04 L379.22,170.43 L379.75,168.82 L380.27,167.21 L380.79,165.59 L381.31,163.98 L381.83,162.36 L382.34,160.74 L382.85,159.11 L383.35,157.49 L383.86,155.87 L384.36,154.24 L384.85,152.62 L385.35,150.99 L385.84,149.36 L386.33,147.73 L386.82,146.10 L387.31,144.47 L387.79,142.84 L388.27,141.21 L388.76,139.58 L389.24,137.95 L389.71,136.32 L390.19,134.69 L390.67,133.06 L391.14,131.43 L391.61,129.80 L392.09,128.18 L392.56,126.55 L393.03,124.92 L393.50,123.29 L393.97,121.67 L394.44,120.04 L394.91,118.42 L395.38,116.80 L395.85,115.18 L396.32,113.56 L396.79,111.94 L397.27,110.32 L397.74,108.70 L398.22,107.09 L398.70,105.47 L399.18,103.86 L399.67,102.24 L400.16,100.63 L400.65,99.02 L401.14,97.41 L401.65,95.79 L402.15,94.18 L402.66,92.57 L403.18,90.96 L403.70,89.36 L404.22,87.75 L404.75,86.14 L405.29,84.53 L405.84,82.92 L406.39,81.32 L406.95,79.71 L407.52,78.10 L408.10,76.50 L408.68,74.89 L409.27,73.28 L409.87,71.68 L410.49,70.07 L411.11,68.46 L411.74,66.86 L412.38,65.25 L413.03,63.64 L413.70,62.04 L414.40,60.46 L415.13,58.89 L415.90,57.36 L416.74,55.87 L417.63,54.43 L418.60,53.04 L419.64,51.71 L420.78,50.46 L422.02,49.29 L423.34,48.22 L424.73,47.27 L426.18,46.45 L427.67,45.78 L429.19,45.28 L430.73,44.97 L432.27,44.85 L433.81,44.95 L435.33,45.26 L436.83,45.74 L438.31,46.40 L439.77,47.20 L441.20,48.13 L442.61,49.18 L443.98,50.32 L445.32,51.54 L446.62,52.81 L447.88,54.13 L449.09,55.46 L450.26,56.80 L451.39,58.14 L452.48,59.47 L453.53,60.80 L454.57,62.12 L455.59,63.44 L456.61,64.75 L457.63,66.06 L458.66,67.37 L459.69,68.68 L460.73,69.98 L461.78,71.29 L462.84,72.59 L463.90,73.89 L464.97,75.18 L466.05,76.48 L467.12,77.78 L468.21,79.07 L469.29,80.37 L470.38,81.66 L471.48,82.96 L472.57,84.25 L473.67,85.55 L474.77,86.84 L475.87,88.14 L476.97,89.44 L478.07,90.74 L479.17,92.04 L480.26,93.34 L481.37,94.64 L482.47,95.94 L483.57,97.24 L484.68,98.53 L485.80,99.82 L486.92,101.09 L488.05,102.36 L489.19,103.62 L490.34,104.87 L491.49,106.11 L492.66,107.33 L493.84,108.54 L495.03,109.74 L496.24,110.91 L497.47,112.07 L498.70,113.21 L499.96,114.32 L501.24,115.42 L502.53,116.49 L503.84,117.54 L505.17,118.57 L506.51,119.58 L507.87,120.57 L509.24,121.54 L510.63,122.49 L512.03,123.43 L513.44,124.35 L514.86,125.25 L516.30,126.14 L517.75,127.02 L519.20,127.88 L520.67,128.72 L522.14,129.56 L523.62,130.38 L525.11,131.20 L526.60,132.00 L528.10,132.79 L529.61,133.58 L531.12,134.35 L532.64,135.11 L534.16,135.87 L535.69,136.61 L537.22,137.35 L538.76,138.07 L540.30,138.78 L541.85,139.49 L543.40,140.18 L544.96,140.86 L546.52,141.53 L548.09,142.19 L549.66,142.84 L551.24,143.47 L552.82,144.10 L554.40,144.71 L555.99,145.31 L557.59,145.90 L559.18,146.48 L560.79,147.04 L562.39,147.59 L564.00,148.13 L565.61,148.66 L567.23,149.18 L568.85,149.68 L570.48,150.17 L572.11,150.64 L573.74,151.10 L575.37,151.55 L577.01,151.98 L578.65,152.40 L580.30,152.81 L581.95,153.20 L583.60,153.58 L585.25,153.95 L586.91,154.30 L588.57,154.63 L590.23,154.95 L591.89,155.26 L593.56,155.55 L595.23,155.82 L596.91,156.08 L598.58,156.33 L600.26,156.56 L601.94,156.77 L603.62,156.97 L605.30,157.15 L606.99,157.32 L608.67,157.47 L610.36,157.61 L612.05,157.73 L613.74,157.84 L615.43,157.93 L617.13,158.01 L618.82,158.07 L620.51,158.11 L622.21,158.15 L623.90,158.16 L625.60,158.17 L627.30,158.16 L628.99,158.13 L630.69,158.09 L632.38,158.03 L634.08,157.96 L635.77,157.88 L637.47,157.78 L639.16,157.67 L640.85,157.54 L642.54,157.40 L644.23,157.25 L645.92,157.08 L647.61,156.90 L649.29,156.70 L650.98,156.49 L652.66,156.27 L654.34,156.03 L656.02,155.78 L657.69,155.51 L659.37,155.24 L661.04,154.95 L662.70,154.64 L664.40,154.80 L664.40,155.00 L664.34,156.75 L663.46,158.42 L662.53,160.03 L661.56,161.56 L660.54,163.03 L659.47,164.43 L658.35,165.77 L657.20,167.04 L656.00,168.26 L654.76,169.42 L653.48,170.52 L652.17,171.56 L650.82,172.56 L649.43,173.50 L648.02,174.39 L646.57,175.24 L645.09,176.04 L643.58,176.79 L642.04,177.51 L640.48,178.18 L638.90,178.82 L637.29,179.41 L635.66,179.98 L634.01,180.50 L632.34,181.00 L630.66,181.47 L628.95,181.91 L627.24,182.32 L625.51,182.71 L623.77,183.07 L622.02,183.42 L620.26,183.74 L618.50,184.05 L616.73,184.34 L614.95,184.62 L613.17,184.89 L611.39,185.14 L609.62,185.39 L607.84,185.63 L606.06,185.87 L604.29,186.10 L602.52,186.32 L600.76,186.54 L599.00,186.76 L597.24,186.98 L595.48,187.19 L593.73,187.39 L591.98,187.60 L590.23,187.80 L588.48,188.00 L586.74,188.19 L585.00,188.38 L583.26,188.57 L581.52,188.76 L579.78,188.94 L578.05,189.13 L576.32,189.31 L574.59,189.49 L572.86,189.66 L571.13,189.84 L569.41,190.02 L567.68,190.19 L565.96,190.36 L564.23,190.53 L562.51,190.71 L560.79,190.88 L559.07,191.05 L557.35,191.22 L555.63,191.39 L553.91,191.56 L552.19,191.73 L550.47,191.90 L548.75,192.07 L547.03,192.24 L545.31,192.42 L543.59,192.59 L541.87,192.77 L540.15,192.94 L538.43,193.12 L536.71,193.30 L534.98,193.49 L533.26,193.67 L531.54,193.86 L529.81,194.04 L528.08,194.24 L526.36,194.43 L524.63,194.63 L522.89,194.83 L521.16,195.03 L519.43,195.24 L517.69,195.45 L515.95,195.66 L514.22,195.89 L512.48,196.12 L510.74,196.36 L509.00,196.61 L507.27,196.87 L505.54,197.15 L503.81,197.44 L502.08,197.75 L500.35,198.08 L498.63,198.43 L496.91,198.79 L495.20,199.18 L493.50,199.60 L491.79,200.04 L490.10,200.50 L488.41,201.00 L486.73,201.52 L485.06,202.07 L483.39,202.65 L481.74,203.27 L480.09,203.91 L478.46,204.59 L476.84,205.29 L475.23,206.03 L473.64,206.79 L472.06,207.58 L470.50,208.41 L468.96,209.26 L467.43,210.14 L465.93,211.05 L464.44,211.99 L462.98,212.96 L461.53,213.95 L460.11,214.98 L458.72,216.03 L457.35,217.11 L456.00,218.22 L454.68,219.36 L453.39,220.53 L452.13,221.72 L450.90,222.94 L449.70,224.19 L448.53,225.46 L447.39,226.77 L446.29,228.09 L445.21,229.45 L444.17,230.83 L443.16,232.23 L442.18,233.65 L441.22,235.10 L440.29,236.56 L439.38,238.05 L438.50,239.55 L437.64,241.06 L436.80,242.59 L435.98,244.13 L435.18,245.69 L434.40,247.26 L433.64,248.83 L432.89,250.42 L432.15,252.01 L431.43,253.61 L430.72,255.22 L430.02,256.83 L429.33,258.44 L428.65,260.05 L427.98,261.67 L427.32,263.29 L426.66,264.91 L426.02,266.54 L425.39,268.17 L424.76,269.80 L424.14,271.44 L423.53,273.07 L422.93,274.71 L422.34,276.36 L421.75,278.00 L421.17,279.65 L420.60,281.30 L420.03,282.95 L419.47,284.60 L418.92,286.26 L418.37,287.92 L417.84,289.58 L417.30,291.24 L416.77,292.90 L416.25,294.57 L415.73,296.23 L415.22,297.90 L414.71,299.57 L414.21,301.24 L413.71,302.92 L413.22,304.59 L412.73,306.27 L412.24,307.94 L411.76,309.62 L411.28,311.30 L410.81,312.98 L410.34,314.66 L409.87,316.34 L409.40,318.03 L408.94,319.71 L408.47,321.40 L408.01,323.08 L407.56,324.77 L407.10,326.45 L406.64,328.14 L406.19,329.83 L405.74,331.51 L405.29,333.20 L404.84,334.89 L404.39,336.58 L403.94,338.26 L403.49,339.95 L403.04,341.64 L402.59,343.33 L402.14,345.01 L401.69,346.70 L401.24,348.39 L400.79,350.08 L400.34,351.76 L399.88,353.45 L399.43,355.14 L398.98,356.82 L398.53,358.51 L398.07,360.20 L397.62,361.88 L397.16,363.57 L396.70,365.25 L396.24,366.94 L395.78,368.62 L395.32,370.30 L394.85,371.99 L394.39,373.67 L393.92,375.35 L393.45,377.03 L392.98,378.71 L392.50,380.39 L392.03,382.07 L391.55,383.74 L391.07,385.42 L390.59,387.10 L390.10,388.77 L389.61,390.45 L389.12,392.12 L388.62,393.79 L388.13,395.46 L387.62,397.13 L387.12,398.80 L386.61,400.47 L386.10,402.13 L385.59,403.80 L385.07,405.46 L384.55,407.13 L384.02,408.79 L383.49,410.45 L382.96,412.11 L382.42,413.77 L381.88,415.42 L381.33,417.08 L380.78,418.73 L380.22,420.38 L379.66,422.03 L379.09,423.68 L378.51,425.32 L377.91,426.96 L377.29,428.59 L376.64,430.21 L375.96,431.82 L375.24,433.42 L374.48,435.01 L373.67,436.58 L372.82,438.13 L371.90,439.67 L370.93,441.18 L369.89,442.68 L368.78,444.14 L367.60,445.55 L366.36,446.87 L365.05,448.07 L363.67,449.11 L362.22,449.96 L360.72,450.60 L359.15,451.00 L357.56,451.16 L355.95,451.11 L354.35,450.86 L352.79,450.40 L351.29,449.76 L349.86,448.95 L348.50,447.98 L347.21,446.89 L345.97,445.69 L344.78,444.41 L343.61,443.08 L342.46,441.72 L341.32,440.36 L340.19,438.98 L339.07,437.60 L337.95,436.22 L336.85,434.83 L335.75,433.44 L334.66,432.04 L333.57,430.63 L332.49,429.23 L331.42,427.82 L330.35,426.40 L329.29,424.99 L328.23,423.57 L327.17,422.15 L326.12,420.73 L325.07,419.31 L324.02,417.89 L322.98,416.46 L321.94,415.04 L320.89,413.62 L319.85,412.20 L318.81,410.78 L317.77,409.36 L316.73,407.95 L315.68,406.53 L314.64,405.12 L313.59,403.72 L312.54,402.32 L311.49,400.92 L310.43,399.52 L309.37,398.13 L308.31,396.75 L307.24,395.37 L306.17,394.00 L305.09,392.63 L304.01,391.27 L302.91,389.92 L301.82,388.58 L300.71,387.24 L299.60,385.91 L298.48,384.59 L297.35,383.28 L296.21,381.98 L295.06,380.69 L293.90,379.41 L292.73,378.14 L291.55,376.88 L290.36,375.63 L289.16,374.40 L287.95,373.17 L286.72,371.96 L285.48,370.76 L284.23,369.58 L282.96,368.41 L281.68,367.25 L280.38,366.11 L279.07,364.98 L277.74,363.87 L276.40,362.77 L275.03,361.69 L273.66,360.63 L272.27,359.58 L270.86,358.55 L269.44,357.54 L268.00,356.54 L266.55,355.55 L265.08,354.59 L263.61,353.64 L262.12,352.71 L260.61,351.79 L259.10,350.89 L257.57,350.01 L256.03,349.14 L254.48,348.29 L252.92,347.46 L251.35,346.65 L249.77,345.85 L248.19,345.07 L246.59,344.30 L244.98,343.56 L243.37,342.83 L241.75,342.12 L240.12,341.42 L238.48,340.75 L236.84,340.09 L235.20,339.45 L233.54,338.82 L231.88,338.22 L230.22,337.63 L228.55,337.06 L226.88,336.51 L225.21,335.98 L223.53,335.46 L221.85,334.96 L220.17,334.48 L218.48,334.02 L216.80,333.58 L215.11,333.15 L213.42,332.75 L211.73,332.36 L210.04,331.99 L208.36,331.64 L206.67,331.30 L204.99,330.99 L203.30,330.70 L201.62,330.42 L199.94,330.16 L198.27,329.93 L196.59,329.71 L194.93,329.51 L193.00,329.80" stroke="#2626ff"/>
</g>
<g stroke="#1a1a1a" stroke-width="2" fill="none">
<rect x="125.20" y="14.30" width="607.20" height="477.60"/>
<line x1="115.20" y1="492.00" x2="125.20" y2="492.00"/>
<line x1="120.20" y1="446.50" x2="125.20" y2="446.50"/>
<line x1="115.20" y1="401.00" x2="125.20" y2="401.00"/>
<line x1="120.20" y1="355.50" x2="125.20" y2="355.50"/>
<line x1="115.20" y1="310.00" x2="125.20" y2="310.00"/>
<line x1="120.20" y1="264.50" x2="125.20" y2="264.50"/>
<line x1="115.20" y1="219.00" x2="125.20" y2="219.00"/>
<line x1="120.20" y1="173.50" x2="125.20" y2="173.50"/>
<line x1="115.20" y1="128.00" x2="125.20" y2="128.00"/>
<line x1="120.20" y1="82.50" x2="125.20" y2="82.50"/>
<line x1="115.20" y1="37.00" x2="125.20" y2="37.00"/>
<line x1="125.00" y1="491.90" x2="125.00" y2="501.90"/>
<line x1="192.50" y1="491.90" x2="192.50" y2="496.90"/>
<line x1="260.00" y1="491.90" x2="260.00" y2="501.90"/>
<line x1="327.50" y1="491.90" x2="327.50" y2="496.90"/>
<line x1="395.00" y1="491.90" x2="395.00" y2="501.90"/>
<line x1="462.50" y1="491.90" x2="462.50" y2="496.90"/>
<line x1="530.00" y1="491.90" x2="530.00" y2="501.90"/>
<line x1="597.50" y1="491.90" x2="597.50" y2="496.90"/>
<line x1="665.00" y1="491.90" x2="665.00" y2="501.90"/>
<line x1="732.50" y1="491.90" x2="732.50" y2="496.90"/>
</g>
<g stroke-width="1.9">
<line x1="152" y1="59.3" x2="197" y2="59.3" stroke="#ff1c1c"/>
<line x1="152" y1="82.8" x2="197" y2="82.8" stroke="#22f522"/>
<line x1="152" y1="106.1" x2="197" y2="106.1" stroke="#2626ff"/>
</g>
<g class="lg">
<text x="202.20" y="68.7">a</text>
<text x="201.90" y="92.1">b</text>
<text x="202.10" y="114.7">c</text>
</g>
<text x="71.50" y="48.20" letter-spacing="-0.30">80</text>
<text x="72.10" y="138.40" letter-spacing="-0.70">40</text>
<text x="89.10" y="228.60" letter-spacing="0.30">0</text>
<text x="61.00" y="319.40" letter-spacing="-0.20">-40</text>
<text x="61.70" y="409.60" letter-spacing="-0.60">-80</text>
<text x="44.30" y="499.80" letter-spacing="-0.23">-120</text>
<text x="100.80" y="534.00" letter-spacing="1.37">-0.2</text>
<text x="240.10" y="533.80" letter-spacing="0.90">0.0</text>
<text x="367.70" y="533.80" letter-spacing="1.20">0.2</text>
<text x="504.80" y="534.20" letter-spacing="1.40">0.4</text>
<text x="642.80" y="534.00" letter-spacing="1.20">0.6</text>
<text x="318.30" y="576.4" letter-spacing="0.95">Potential (V)</text>
<text transform="translate(37,352.20) rotate(-90)" letter-spacing="0.55">Current (μA)</text>
</svg>
</body></html>
